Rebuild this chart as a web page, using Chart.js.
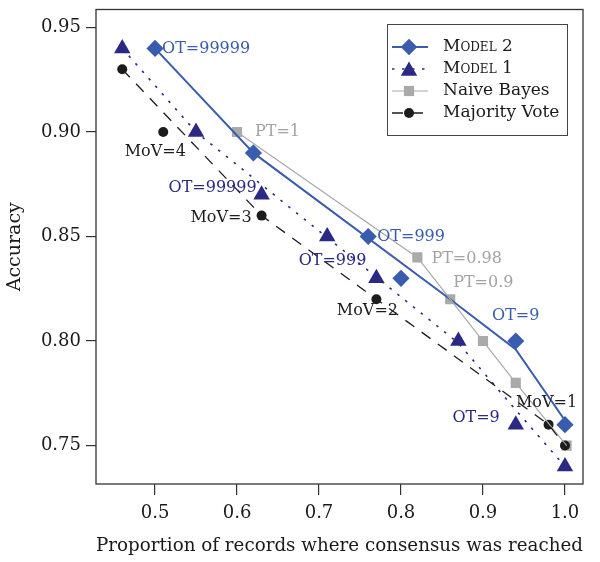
<!DOCTYPE html>
<html>
<head>
<meta charset="utf-8">
<script src="https://cdn.jsdelivr.net/npm/chart.js"></script>
<style>
  body { margin: 0; background: #fff; }
</style>
</head>
<body>
<canvas id="chart" width="600" height="562"></canvas>
<script>
// axis ticks
let xTicks = [0.5, 0.6, 0.7, 0.8, 0.9, 1.0]
let yTicks = [0.75, 0.80, 0.85, 0.90, 0.95]

// Model 2 (diamonds + solid line)
let model2X = [0.50, 0.62, 0.76, 0.80, 0.94, 1.00]
let model2Y = [0.94, 0.89, 0.85, 0.83, 0.80, 0.76]
let model2Tags = ['OT=99999', '', 'OT=999', '', 'OT=9', '']
let model2LineX = [0.50, 0.62, 0.86, 0.94, 1.00]
let model2LineY = [0.94, 0.89, 0.82, 0.796, 0.762]

// Model 1 (triangles + dotted line)
let model1X = [0.46, 0.55, 0.63, 0.71, 0.77, 0.87, 0.94, 1.00]
let model1Y = [0.94, 0.90, 0.87, 0.85, 0.83, 0.80, 0.76, 0.74]
let model1Tags = ['', '', 'OT=99999', '', 'OT=999', '', 'OT=9', '']
let model1LineX = [0.46, 0.55, 0.87, 0.94, 1.00]
let model1LineY = [0.94, 0.90, 0.799, 0.767, 0.74]

// Naive Bayes (squares, line through points)
let nbX = [0.60, 0.82, 0.86, 0.90, 0.94, 1.002]
let nbY = [0.90, 0.84, 0.82, 0.80, 0.78, 0.75]
let nbTags = ['PT=1', 'PT=0.98', 'PT=0.9', '', '', '']

// Majority vote (circles + dashed line)
let mvX = [0.46, 0.51, 0.63, 0.77, 0.98, 1.00]
let mvY = [0.93, 0.90, 0.86, 0.82, 0.76, 0.75]
let mvTags = ['', 'MoV=4', 'MoV=3', 'MoV=2', 'MoV=1', '']
let mvLineX = [0.46, 0.63, 0.77, 0.98, 1.00]
let mvLineY = [0.93, 0.86, 0.82, 0.76, 0.75]

let legendNames = ['Model 2', 'Model 1', 'Naive Bayes', 'Majority Vote']

let blue = '#3a5cae'
let navy = '#2a2a85'
let grey = '#aaaaaa'
let black = '#1c1c1c'
let serif = '"DejaVu Serif", serif'

function pts(xs, ys) {
    return xs.map((x, i) => ({ x: x, y: ys[i] }))
}

// where each tag sits relative to its point (px)
let tagStyle = {
    model2: { color: blue, pos: [['left', 7, 0], null, ['left', 9, 0], null, ['center', 0, -25], null] },
    model1: { color: navy, pos: [null, null, ['right', -5, -7], null, ['right', -10, -17], null, ['right', -16, -7], null] },
    nb: { color: '#a3a3a3', pos: [['left', 18, 0], ['left', 14, 1], ['left', 3, -16], null, null, null] },
    mv: { color: black, pos: [null, ['center', -8, 20], ['right', -10, 2], ['center', -9, 12], ['center', -2, -22], null] }
}

let lineSets = [
    { label: 'mvLine', data: pts(mvLineX, mvLineY), borderColor: black, borderWidth: 1.3, borderDash: [11, 9] },
    { label: 'nbLine', data: pts(nbX, nbY), borderColor: grey, borderWidth: 1.2 },
    { label: 'm1Line', data: pts(model1LineX, model1LineY), borderColor: navy, borderWidth: 1.6, borderDash: [2.5, 7.5] },
    { label: 'm2Line', data: pts(model2LineX, model2LineY), borderColor: blue, borderWidth: 2 }
].map(d => Object.assign(d, { showLine: true, pointRadius: 0, fill: false, tension: 0 }))

let markerSets = [
    { label: 'mv', data: pts(mvX, mvY), pointStyle: 'circle', pointRadius: 5, backgroundColor: black, tags: mvTags },
    { label: 'nb', data: pts(nbX, nbY), pointStyle: 'rect', pointRadius: 7.2, backgroundColor: grey, tags: nbTags },
    { label: 'model1', data: pts(model1X, model1Y), pointStyle: 'triangle', pointRadius: 9.5, backgroundColor: navy, tags: model1Tags },
    { label: 'model2', data: pts(model2X, model2Y), pointStyle: 'rectRot', pointRadius: 8.6, backgroundColor: blue, tags: model2Tags }
].map(d => Object.assign(d, { showLine: false, borderWidth: 0, borderColor: d.backgroundColor }))

// box around the plot
let framePlugin = {
    id: 'frame',
    afterDatasetsDraw(chart) {
        let a = chart.chartArea
        let ctx = chart.ctx
        ctx.save()
        ctx.strokeStyle = '#333'
        ctx.lineWidth = 1.3
        ctx.strokeRect(a.left, a.top, a.right - a.left, a.bottom - a.top)
        ctx.restore()
    }
}

// OT= / PT= / MoV= tags next to points
let tagPlugin = {
    id: 'tags',
    afterDatasetsDraw(chart) {
        let ctx = chart.ctx
        let xs = chart.scales.x, ys = chart.scales.y
        ctx.save()
        ctx.font = '16px ' + serif
        ctx.textBaseline = 'middle'
        chart.data.datasets.forEach(ds => {
            if (!ds.tags) return
            let st = tagStyle[ds.label]
            ds.tags.forEach((t, i) => {
                if (!t || !st.pos[i]) return
                let p = st.pos[i]
                ctx.fillStyle = st.color
                ctx.textAlign = p[0]
                ctx.fillText(t, xs.getPixelForValue(ds.data[i].x) + p[1], ys.getPixelForValue(ds.data[i].y) + p[2])
            })
        })
        ctx.restore()
    }
}

function marker(ctx, style, x, y, r, color) {
    ctx.fillStyle = color
    ctx.beginPath()
    if (style === 'circle') {
        ctx.arc(x, y, r, 0, Math.PI * 2)
    } else if (style === 'rect') {
        let s = r * Math.SQRT1_2
        ctx.rect(x - s, y - s, 2 * s, 2 * s)
    } else if (style === 'triangle') {
        ctx.moveTo(x, y - r)
        ctx.lineTo(x + r * 0.866, y + r * 0.5)
        ctx.lineTo(x - r * 0.866, y + r * 0.5)
    } else {
        ctx.moveTo(x - r, y); ctx.lineTo(x, y - r); ctx.lineTo(x + r, y); ctx.lineTo(x, y + r)
    }
    ctx.closePath()
    ctx.fill()
}

let legendPlugin = {
    id: 'boxLegend',
    afterDraw(chart) {
        let ctx = chart.ctx
        ctx.save()
        ctx.fillStyle = '#fff'
        ctx.fillRect(387.5, 24.5, 180, 111)
        ctx.strokeStyle = '#444'
        ctx.lineWidth = 1
        ctx.strokeRect(387.5, 24.5, 180, 111)
        let rows = [
            { color: blue, dash: [], width: 2, style: 'rectRot', r: 8.3 },
            { color: navy, dash: [2.5, 7.5], width: 1.6, style: 'triangle', r: 9.5 },
            { color: grey, dash: [], width: 1.2, style: 'rect', r: 7.2 },
            { color: black, dash: [11, 9], width: 1.3, style: 'circle', r: 5 }
        ]
        rows.forEach((row, i) => {
            let y = 47 + i * 22
            ctx.strokeStyle = row.color
            ctx.lineWidth = row.width
            ctx.setLineDash(row.dash)
            ctx.beginPath()
            ctx.moveTo(392, y)
            ctx.lineTo(428, y)
            ctx.stroke()
            ctx.setLineDash([])
            marker(ctx, row.style, 409, row.style === 'triangle' ? y + 2 : y, row.r, row.color)
            ctx.fillStyle = '#1a1a1a'
            ctx.textBaseline = 'middle'
            ctx.textAlign = 'left'
            ctx.font = (i < 2 ? 'small-caps ' : '') + '17px ' + serif
            ctx.fillText(legendNames[i], 443, y)
        })
        ctx.restore()
    }
}

let ctx = document.getElementById('chart').getContext('2d')
new Chart(ctx, {
    type: 'scatter',
    data: { datasets: lineSets.concat(markerSets) },
    options: {
        responsive: false,
        animation: false,
        layout: { padding: { top: 5, right: 17, left: 0, bottom: 0 } },
        plugins: { legend: { display: false }, tooltip: { enabled: false } },
        scales: {
            x: {
                type: 'linear',
                min: 0.428,
                max: 1.022,
                afterFit: s => { s.height = 78; s.paddingLeft = 0; s.paddingRight = 0 },
                afterBuildTicks: s => { s.ticks = xTicks.map(v => ({ value: v })) },
                ticks: { callback: v => v.toFixed(1), color: '#1a1a1a', font: { family: serif, size: 18 }, padding: 8, maxRotation: 0 },
                grid: { drawOnChartArea: false, tickLength: 11, color: '#333', lineWidth: 1.2 },
                border: { display: false },
                title: { display: true, text: 'Proportion of records where consensus was reached', color: '#1a1a1a', font: { family: serif, size: 19 }, padding: { top: 0, bottom: 5 } }
            },
            y: {
                type: 'linear',
                min: 0.7316,
                max: 0.9586,
                afterFit: s => { s.width = 96; s.paddingTop = 0; s.paddingBottom = 0 },
                afterBuildTicks: s => { s.ticks = yTicks.map(v => ({ value: v })) },
                ticks: { callback: v => v.toFixed(2), color: '#1a1a1a', font: { family: serif, size: 18 }, padding: 5 },
                grid: { drawOnChartArea: false, tickLength: 10, color: '#333', lineWidth: 1.2 },
                border: { display: false },
                title: { display: true, text: 'Accuracy', color: '#1a1a1a', font: { family: serif, size: 19 }, padding: { top: 4, bottom: 0 } }
            }
        }
    },
    plugins: [framePlugin, tagPlugin, legendPlugin]
})
</script>
</body>
</html>
